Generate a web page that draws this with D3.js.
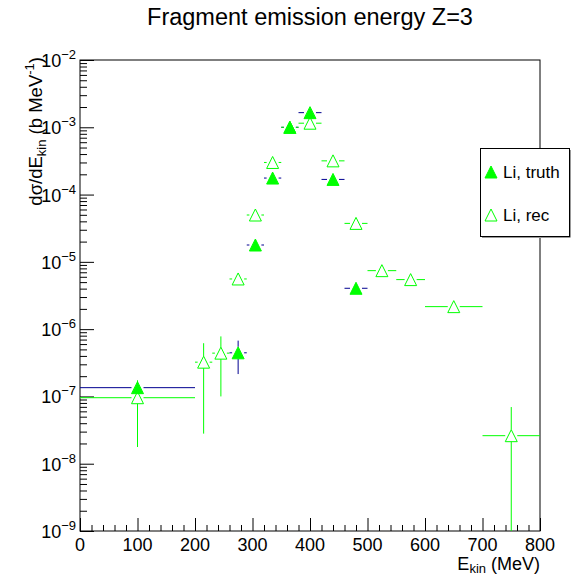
<!DOCTYPE html>
<html><head><meta charset="utf-8">
<script src="https://cdn.jsdelivr.net/npm/d3@7"></script>
<style>body{margin:0;background:#fff}text{font-family:"Liberation Sans",Arial,Helvetica,sans-serif;fill:#000}</style>
</head><body><svg id="c" width="572" height="576"></svg>
<script>
// ---- data ----
const binLo = [0, 200, 230, 260, 290, 320, 350, 380, 420, 460, 500, 550, 600, 700];
const binHi = [200, 230, 260, 290, 320, 350, 380, 420, 460, 500, 550, 600, 700, 800];
const truthVal = [1.35e-7, 0, 0, 4.45e-7, 1.78e-5, 1.76e-4, 1.0e-3, 1.65e-3, 1.68e-4, 4.05e-6, 0, 0, 0, 0];
const truthErr = [0.1e-7, 0, 0, 2.3e-7, 0.4e-6, 0.5e-5, 0.3e-4, 0.5e-4, 0.5e-5, 0.2e-6, 0, 0, 0, 0];
const recVal = [9.57e-8, 3.23e-7, 4.4e-7, 5.57e-6, 4.97e-5, 3.0e-4, 1.0e-3, 1.15e-3, 3.17e-4, 3.73e-5, 7.4e-6, 5.45e-6, 2.16e-6, 2.61e-8];
const recErr = [7.8e-8, 2.95e-7, 3.4e-7, 0.3e-6, 0.2e-5, 0.1e-4, 0.3e-4, 0.3e-4, 0.1e-4, 0.1e-5, 0.3e-6, 0.3e-6, 0.1e-6, 4.34e-8];
const xTickVals = [0, 100, 200, 300, 400, 500, 600, 700, 800];
const yDecades = [-9, -8, -7, -6, -5, -4, -3, -2];
const titleText = "Fragment emission energy Z=3";
const legendLabels = ["Li, truth", "Li, rec"];

// ---- layout ----
const svg = d3.select("#c");
const L = 80, R = 540, T = 60, B = 531;
const x = d3.scaleLinear().domain([0, 800]).range([L, R]);
const y = d3.scaleLog().domain([1e-9, 1e-2]).range([B, T]);
const green = "#00ff00", navy = "#000090";
const MR = 6; // marker half size

// title
svg.append("text").attr("x", 310).attr("y", 25).attr("text-anchor", "middle")
  .style("font-size", "23.5px").text(titleText);

// axes
const minorY = [];
yDecades.slice(0, -1).forEach(d => { for (let k = 2; k <= 9; k++) minorY.push(k * Math.pow(10, d)); });
const majorY = yDecades.map(d => Math.pow(10, d));
const minorX = d3.range(0, 801, 20).filter(v => v % 100 !== 0);

function styleAxis(g) { g.select(".domain").remove(); g.selectAll("line").attr("stroke", "#000"); g.selectAll("text").remove(); }
svg.append("g").attr("transform", `translate(${L},0)`).call(d3.axisLeft(y).tickValues(majorY).tickSize(-14)).call(styleAxis);
svg.append("g").attr("transform", `translate(${L},0)`).call(d3.axisLeft(y).tickValues(minorY).tickSize(-7)).call(styleAxis);
svg.append("g").attr("transform", `translate(0,${B})`).call(d3.axisBottom(x).tickValues(xTickVals).tickSize(-13)).call(styleAxis);
svg.append("g").attr("transform", `translate(0,${B})`).call(d3.axisBottom(x).tickValues(minorX).tickSize(-6)).call(styleAxis);

// frame
svg.append("rect").attr("x", L).attr("y", T).attr("width", R - L).attr("height", B - T)
  .attr("fill", "none").attr("stroke", "#000").attr("stroke-width", 1);

// y tick labels
yDecades.forEach(d => {
  const t = svg.append("text").attr("x", 76).attr("y", y(Math.pow(10, d)) + 7).attr("text-anchor", "end").style("font-size", "18px");
  t.append("tspan").text("10");
  t.append("tspan").attr("dy", -8).style("font-size", "13px").text("\u2212" + Math.abs(d));
});
// x tick labels
xTickVals.forEach(v => {
  svg.append("text").attr("x", x(v)).attr("y", 551).attr("text-anchor", "middle").style("font-size", "18px").text(v);
});
// x title
const xt = svg.append("text").attr("x", R).attr("y", 570).attr("text-anchor", "end").style("font-size", "18px");
xt.append("tspan").text("E");
xt.append("tspan").attr("dy", 3).style("font-size", "13px").text("kin");
xt.append("tspan").attr("dy", -3).text(" (MeV)");
// y title
const yt = svg.append("text").attr("transform", `translate(42,57) rotate(-90)`).attr("text-anchor", "end").style("font-size", "18.5px");
yt.append("tspan").text("d\u03c3/dE");
yt.append("tspan").attr("dy", 4).style("font-size", "13px").text("kin");
yt.append("tspan").attr("dy", -4).text(" (b MeV");
yt.append("tspan").attr("dy", -8).style("font-size", "13px").text("-1");
yt.append("tspan").attr("dy", 8).text(")");

// clip
svg.append("clipPath").attr("id", "fr").append("rect").attr("x", L).attr("y", T).attr("width", R - L).attr("height", B - T);
const plot = svg.append("g").attr("clip-path", "url(#fr)");

const tri = (cx, cy) => `M${cx - MR},${cy + MR}L${cx + MR},${cy + MR}L${cx},${cy - MR}Z`;

function drawSeries(vals, errs, color, filled) {
  vals.forEach((v, i) => {
    if (!(v > 0)) return;
    const cx = x((binLo[i] + binHi[i]) / 2), cy = y(v);
    const x0 = x(binLo[i]), x1 = x(binHi[i]);
    const g = plot.append("g").attr("stroke", color).attr("stroke-width", 1).attr("fill", "none");
    if (cx - MR > x0) g.append("line").attr("x1", x0).attr("x2", cx - MR).attr("y1", cy).attr("y2", cy);
    if (x1 > cx + MR) g.append("line").attr("x1", cx + MR).attr("x2", x1).attr("y1", cy).attr("y2", cy);
    const e = errs[i];
    const yTop = y(v + e);
    const lo = v - e;
    const yBot = lo > 0 ? y(lo) : B + 10;
    if (yTop < cy - MR) g.append("line").attr("x1", cx).attr("x2", cx).attr("y1", yTop).attr("y2", cy - MR);
    if (yBot > cy + MR) g.append("line").attr("x1", cx).attr("x2", cx).attr("y1", cy + MR).attr("y2", yBot);
  });
  vals.forEach((v, i) => {
    if (!(v > 0)) return;
    const cx = x((binLo[i] + binHi[i]) / 2), cy = y(v);
    plot.append("path").attr("d", tri(cx, cy))
      .attr("fill", filled ? green : "none").attr("stroke", green).attr("stroke-width", 1);
  });
}
drawSeries(truthVal, truthErr, navy, true);
drawSeries(recVal, recErr, green, false);

// legend
const lg = svg.append("g");
lg.append("rect").attr("x", 480.5).attr("y", 148.5).attr("width", 89).attr("height", 88)
  .attr("fill", "#fff").attr("stroke", "#000").attr("stroke-width", 1);
lg.append("line").attr("x1", 570.5).attr("x2", 570.5).attr("y1", 150).attr("y2", 237).attr("stroke", "#999");
lg.append("line").attr("x1", 482).attr("x2", 570.5).attr("y1", 237.5).attr("y2", 237.5).attr("stroke", "#999");
const legY = [172, 215];
legendLabels.forEach((lab, i) => {
  lg.append("path").attr("d", tri(491, legY[i]))
    .attr("fill", i === 0 ? green : "none").attr("stroke", green);
  lg.append("text").attr("x", 503).attr("y", legY[i] + 6).style("font-size", "17px").text(lab);
});
</script></body></html>
